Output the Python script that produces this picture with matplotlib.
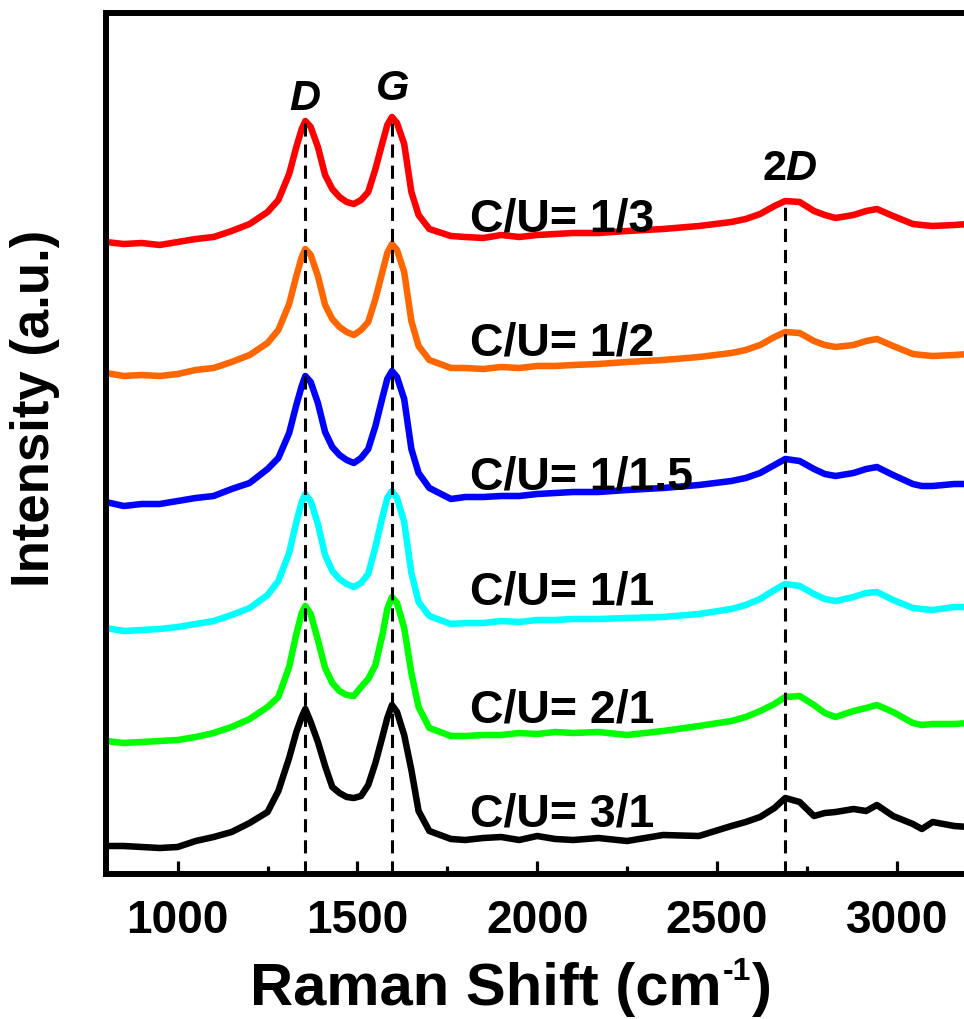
import matplotlib
matplotlib.use('Agg')
import matplotlib.pyplot as plt

plt.rcParams['font.family'] = ['Liberation Sans', 'DejaVu Sans']
plt.rcParams['font.weight'] = 'bold'
plt.rcParams['mathtext.fontset'] = 'custom'
plt.rcParams['mathtext.rm'] = 'Liberation Sans:bold'
plt.rcParams['mathtext.it'] = 'Liberation Sans:bold:italic'
plt.rcParams['mathtext.bf'] = 'Liberation Sans:bold'

# ---------------- data ----------------
raman_shift = [800, 850, 900, 950, 1000, 1050, 1100, 1150, 1200, 1250,
               1280, 1310, 1330, 1345, 1355, 1370, 1390, 1410, 1430, 1450,
               1470, 1490, 1510, 1530, 1550, 1570, 1583, 1596, 1610, 1630,
               1650, 1670, 1700, 1760, 1800, 1850, 1900, 1950, 2000, 2050,
               2100, 2170, 2250, 2350, 2450,
               2540, 2580, 2620, 2660, 2690, 2730, 2770, 2800, 2830, 2880,
               2915, 2945, 2990, 3045, 3070, 3100, 3160, 3200]

cu_1_3 = [632, 630, 631, 629, 632, 635, 637, 643, 650, 662,
          674, 700, 727, 745, 753, 747, 727, 699, 685, 677,
          672, 670, 674, 682, 705, 732, 749, 757, 751, 730,
          682, 659, 645, 638, 637, 636, 639, 637, 639, 640,
          641, 641, 643, 645, 648,
          652, 655, 660, 668, 673, 672, 663, 659, 656, 659,
          663, 665, 658, 650, 649, 648, 649, 650]

cu_1_2 = [501, 498, 499, 498, 500, 504, 506, 512, 519, 531,
          544, 570, 598, 617, 625, 619, 598, 569, 555, 547,
          542, 539, 544, 552, 575, 603, 621, 630, 624, 602,
          553, 528, 514, 506, 506, 505, 507, 506, 508, 508,
          509, 510, 512, 514, 517,
          521, 524, 529, 537, 542, 541, 533, 529, 527, 529,
          533, 535, 528, 520, 519, 518, 519, 520]

cu_1_15 = [372, 368, 370, 370, 373, 376, 378, 385, 391, 405,
           416, 441, 469, 488, 498, 492, 471, 442, 427, 419,
           414, 411, 416, 425, 448, 477, 495, 503, 497, 475,
           425, 401, 386, 375, 377, 377, 378, 378, 380, 381,
           382, 382, 384, 386, 389,
           393, 396, 401, 409, 415, 413, 405, 400, 398, 401,
           405, 407, 399, 390, 388, 388, 390, 390]

cu_1_1 = [246, 243, 244, 245, 247, 250, 253, 259, 266, 279,
          293, 321, 352, 372, 380, 373, 350, 319, 303, 295,
          290, 287, 291, 300, 327, 358, 376, 383, 376, 352,
          301, 272, 258, 250, 251, 251, 253, 252, 254, 254,
          255, 255, 256, 257, 260,
          265, 269, 275, 284, 290, 288, 280, 275, 273, 277,
          281, 282, 274, 266, 265, 264, 267, 267]

cu_2_1 = [133, 131, 132, 133, 134, 137, 141, 147, 155, 167,
          177, 207, 240, 261, 268, 260, 234, 206, 191, 183,
          179, 178, 187, 195, 209, 240, 265, 277, 271, 246,
          201, 167, 146, 138, 138, 139, 139, 141, 140, 142,
          141, 142, 139, 143, 148,
          153, 157, 163, 170, 177, 178, 169, 161, 157, 163,
          166, 169, 162, 151, 149, 150, 150, 151]

cu_3_1 = [28, 28, 27, 26, 27, 33, 37, 42, 51, 62,
          83, 116, 142, 157, 165, 152, 132, 108, 87, 81,
          77, 76, 78, 89, 111, 138, 156, 169, 162, 139,
          104, 63, 43, 35, 34, 36, 37, 34, 38, 35,
          34, 36, 33, 39, 38,
          48, 52, 57, 66, 76, 72, 58, 61, 62, 65,
          63, 69, 58, 50, 45, 52, 48, 47]

series = [cu_1_3, cu_1_2, cu_1_15, cu_1_1, cu_2_1, cu_3_1]
labels = ['C/U= 1/3', 'C/U= 1/2', 'C/U= 1/1.5', 'C/U= 1/1', 'C/U= 2/1', 'C/U= 3/1']
colors = ['#FF0000', '#FF6600', '#0000FF', '#00FFFF', '#00FF00', '#000000']
label_x = 1813
label_y = [643, 520, 385, 270, 152, 48]

peak_names = [r'$\mathit{D}$', r'$\mathit{G}$', r'2$\mathit{D}$']
peak_pos = [1355, 1596, 2690]
peak_top = [753, 757, 670]
peak_label_y = [765, 775, 695]
peak_label_x = [1355, 1596, 2703]

# ---------------- figure ----------------
W, H = 964, 1020
fig = plt.figure(figsize=(W / 100, H / 100), dpi=100)
left, right, top, bottom = 105.8, 968.6, 14, 875
ax = fig.add_axes([left / W, 1 - bottom / H, (right - left) / W, (bottom - top) / H])

for y, c in zip(series, colors):
    ax.plot(raman_shift, y, color=c, lw=4.7, solid_joinstyle='round', solid_capstyle='round', zorder=2)

ax.vlines(peak_pos, 0, peak_top, colors='black', linestyles=(0, (4.3, 2.6)), lw=2.2, zorder=3)

for t, y in zip(labels, label_y):
    ax.text(label_x, y, t, fontsize=33.5, fontweight='bold', ha='left', va='baseline', zorder=4)

for t, x, y in zip(peak_names, peak_label_x, peak_label_y):
    ax.text(x, y, t, fontsize=31, ha='center', va='baseline', zorder=4)

ax.set_xlim(800, 3200)
ax.set_ylim(0, bottom - top)
ax.set_xticks([1000, 1500, 2000, 2500, 3000])
ax.set_xticks([1250, 1750, 2250, 2750], minor=True)
ax.set_yticks([])
ax.tick_params(axis='x', which='major', direction='in', length=9.5, width=2.3, pad=17, labelsize=33)
ax.tick_params(axis='x', which='minor', direction='in', length=6, width=2.3)
for lab in ax.get_xticklabels():
    lab.set_fontweight('bold')
for s in ax.spines.values():
    s.set_linewidth(4.3)

# x-axis label built from pieces so that the superscript uses a short hyphen
base_y = 1 - 1005 / H
t1 = fig.text(250 / W, base_y, 'Raman Shift (cm', fontsize=43, fontweight='bold',
              ha='left', va='baseline')
fig.canvas.draw()
r = fig.canvas.get_renderer()
bb1 = t1.get_window_extent(r)
t2 = fig.text(bb1.x1 / W + 1 / W, base_y + 25 / H, '-1', fontsize=23, fontweight='bold',
              ha='left', va='baseline')
bb2 = t2.get_window_extent(r)
fig.text(bb2.x1 / W + 1 / W, base_y, ')', fontsize=43, fontweight='bold',
         ha='left', va='baseline')

fig.text(35.5 / W, 1 - 408 / H, 'Intensity (a.u.)', fontsize=38, fontweight='bold',
         rotation=90, ha='center', va='center')

fig.savefig('out.png', dpi=100)
